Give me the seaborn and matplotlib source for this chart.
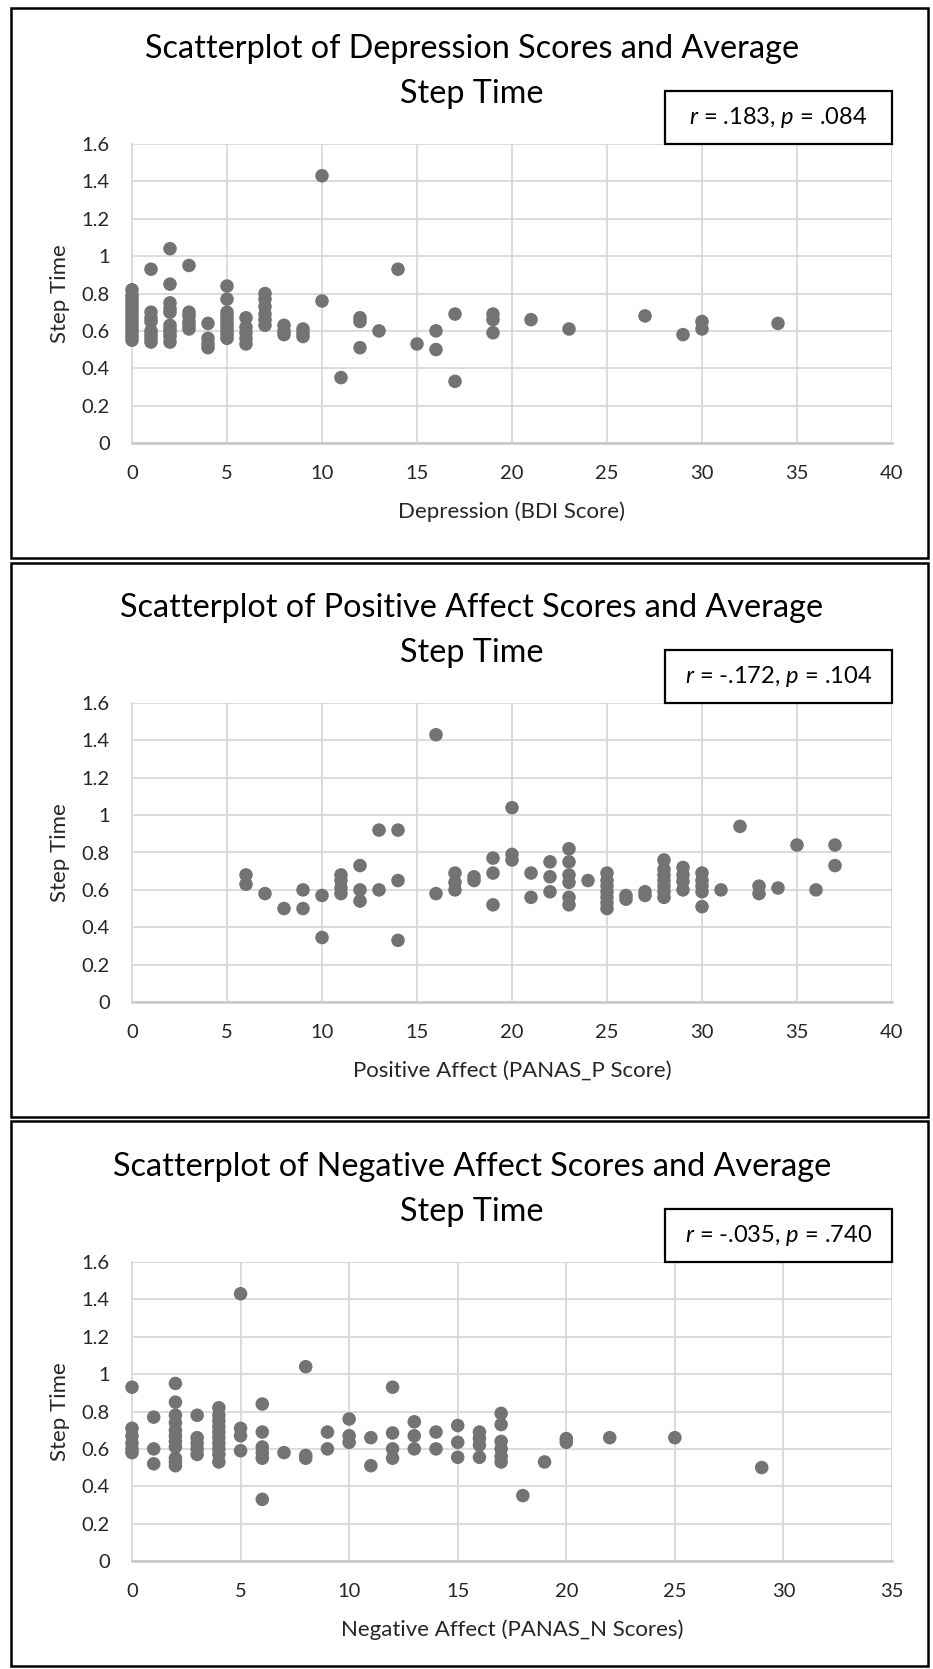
import matplotlib
matplotlib.use("Agg")
import matplotlib.pyplot as plt
from matplotlib.patches import Rectangle
import seaborn as sns
import pandas as pd

# ---------------- data ----------------
bdi_x = [0]*14 + [1]*8 + [2]*10 + [3]*6 + [4]*4 + [5]*10 + [6]*5 + [7]*6 + [8]*3 + [9]*3 \
        + [10]*2 + [11] + [12]*3 + [13] + [14] + [15] + [16]*2 + [17]*2 + [19]*3 + [21] + [23] \
        + [27] + [29] + [30]*2 + [34]
bdi_y = [0.55, 0.57, 0.59, 0.61, 0.63, 0.65, 0.67, 0.69, 0.71, 0.73, 0.75, 0.77, 0.79, 0.82,
         0.93, 0.70, 0.67, 0.65, 0.60, 0.58, 0.56, 0.54,
         1.04, 0.85, 0.75, 0.72, 0.70, 0.63, 0.61, 0.59, 0.57, 0.54,
         0.95, 0.70, 0.68, 0.65, 0.63, 0.61,
         0.64, 0.56, 0.53, 0.51,
         0.84, 0.77, 0.70, 0.68, 0.66, 0.64, 0.62, 0.60, 0.58, 0.56,
         0.67, 0.62, 0.59, 0.56, 0.53,
         0.80, 0.77, 0.73, 0.69, 0.66, 0.63,
         0.63, 0.60, 0.58,
         0.61, 0.59, 0.57,
         1.43, 0.76,
         0.35,
         0.67, 0.65, 0.51,
         0.60,
         0.93,
         0.53,
         0.60, 0.50,
         0.69, 0.33,
         0.69, 0.66, 0.59,
         0.66,
         0.61,
         0.68,
         0.58,
         0.65, 0.61,
         0.64]

pa_x = [6]*2 + [7] + [8] + [9]*2 + [10]*2 + [11]*4 + [12]*3 + [13]*2 + [14]*3 + [16]*2 + [17]*3 \
       + [18]*2 + [19]*3 + [20]*3 + [21]*2 + [22]*3 + [23]*6 + [24] + [25]*7 + [26]*2 + [27]*2 \
       + [28]*7 + [29]*4 + [30]*5 + [31] + [32] + [33]*2 + [34] + [35] + [36] + [37]*2
pa_y = [0.68, 0.63,
        0.58,
        0.50,
        0.60, 0.50,
        0.57, 0.345,
        0.68, 0.65, 0.61, 0.58,
        0.73, 0.60, 0.54,
        0.92, 0.60,
        0.92, 0.65, 0.33,
        1.43, 0.58,
        0.69, 0.64, 0.60,
        0.67, 0.65,
        0.77, 0.69, 0.52,
        1.04, 0.79, 0.76,
        0.69, 0.56,
        0.75, 0.67, 0.59,
        0.82, 0.75, 0.68, 0.64, 0.56, 0.52,
        0.65,
        0.69, 0.65, 0.62, 0.59, 0.56, 0.53, 0.50,
        0.57, 0.55,
        0.59, 0.57,
        0.76, 0.71, 0.68, 0.65, 0.62, 0.59, 0.56,
        0.72, 0.68, 0.645, 0.60,
        0.69, 0.65, 0.62, 0.59, 0.51,
        0.60,
        0.94,
        0.62, 0.58,
        0.61,
        0.84,
        0.60,
        0.84, 0.73]

na_x = [0]*6 + [1]*3 + [2]*11 + [3]*5 + [4]*10 + [5]*4 + [6]*6 + [7] + [8]*3 + [9]*2 + [10]*3 \
       + [11]*2 + [12]*4 + [13]*3 + [14]*2 + [15]*3 + [16]*4 + [17]*6 + [18] + [19] + [20]*2 \
       + [22] + [25] + [29]
na_y = [0.93, 0.71, 0.67, 0.63, 0.60, 0.58,
        0.77, 0.60, 0.52,
        0.95, 0.85, 0.78, 0.74, 0.70, 0.67, 0.64, 0.61, 0.55, 0.53, 0.51,
        0.78, 0.66, 0.63, 0.60, 0.57,
        0.82, 0.78, 0.75, 0.72, 0.69, 0.66, 0.63, 0.60, 0.57, 0.53,
        1.43, 0.71, 0.67, 0.59,
        0.84, 0.69, 0.61, 0.58, 0.55, 0.33,
        0.58,
        1.04, 0.565, 0.55,
        0.69, 0.60,
        0.76, 0.67, 0.635,
        0.66, 0.51,
        0.93, 0.685, 0.60, 0.55,
        0.745, 0.67, 0.60,
        0.69, 0.60,
        0.725, 0.635, 0.555,
        0.69, 0.655, 0.62, 0.555,
        0.79, 0.73, 0.64, 0.60, 0.56, 0.53,
        0.35,
        0.53,
        0.655, 0.635,
        0.66,
        0.66,
        0.50]

titles = [("Scatterplot of Depression Scores and Average", "Step Time"),
          ("Scatterplot of Positive Affect Scores and Average", "Step Time"),
          ("Scatterplot of Negative Affect Scores and Average", "Step Time")]
xlabels = ["Depression (BDI Score)", "Positive Affect (PANAS_P Score)",
           "Negative Affect (PANAS_N Scores)"]
ylabel = "Step Time"
stats = ["$r$ = .183, $p$ = .084", "$r$ = -.172, $p$ = .104", "$r$ = -.035, $p$ = .740"]
xmaxes = [40, 40, 35]
yticks = [0, 0.2, 0.4, 0.6, 0.8, 1.0, 1.2, 1.4, 1.6]
ytick_labels = ["0", "0.2", "0.4", "0.6", "0.8", "1", "1.2", "1.4", "1.6"]

datasets = [pd.DataFrame({"x": bdi_x, "y": bdi_y}),
            pd.DataFrame({"x": pa_x, "y": pa_y}),
            pd.DataFrame({"x": na_x, "y": na_y})]

# ---------------- style ----------------
sns.set_theme(style="white")
FONT = "Lato"
plt.rcParams["font.family"] = [FONT, "DejaVu Sans"]
plt.rcParams["mathtext.fontset"] = "custom"
plt.rcParams["mathtext.rm"] = FONT
plt.rcParams["mathtext.it"] = FONT + ":italic"

W, H = 933, 1669
fig = plt.figure(figsize=(W / 100, H / 100), dpi=100)
fig.patch.set_facecolor("white")

def fx(px):
    return px / W

def fy(py):
    return 1 - py / H

panel_tops = [8, 563, 1121]
panel_bottoms = [558, 1117, 1666]
plot_tops = [144, 703, 1262]
plot_h = 299
plot_l, plot_r = 132, 892

TXT = "#262626"
PT_COLOR = "#737373"
GRID = "#d9d9d9"

for i in range(3):
    # panel border
    fig.patches.append(Rectangle((fx(11), fy(panel_bottoms[i])), fx(928) - fx(11),
                                 fy(panel_tops[i]) - fy(panel_bottoms[i]),
                                 transform=fig.transFigure, fill=False,
                                 edgecolor="black", linewidth=1.8, zorder=0))
    top = plot_tops[i]
    ax = fig.add_axes([fx(plot_l), fy(top + plot_h), fx(plot_r) - fx(plot_l), plot_h / H])
    sns.scatterplot(data=datasets[i], x="x", y="y", ax=ax, color=PT_COLOR,
                    s=95, edgecolor="none", linewidth=0, zorder=3, clip_on=False)
    ax.set_xlim(0, xmaxes[i])
    ax.set_ylim(0, 1.6)
    ax.set_xticks(list(range(0, xmaxes[i] + 1, 5)))
    ax.set_yticks(yticks)
    ax.set_yticklabels(ytick_labels)
    ax.grid(True, color=GRID, linewidth=1.3, zorder=0)
    ax.set_axisbelow(True)
    for side in ["top", "right"]:
        ax.spines[side].set_visible(False)
    ax.spines["left"].set_color(GRID)
    ax.spines["left"].set_linewidth(1.3)
    ax.spines["bottom"].set_color("#c8c8c8")
    ax.spines["bottom"].set_linewidth(1.8)
    ax.tick_params(axis="both", length=0, labelsize=14.5, labelcolor=TXT)
    ax.tick_params(axis="x", pad=16)
    ax.tick_params(axis="y", pad=16)
    ax.set_xlabel(xlabels[i], fontsize=16, color=TXT)
    ax.set_ylabel(ylabel, fontsize=16, color=TXT)
    ax.xaxis.set_label_coords(0.5, -(512 - 443) / plot_h)
    ax.xaxis.label.set_va("center")
    ax.yaxis.set_label_coords(-(plot_l - 60) / (plot_r - plot_l), 0.5)
    ax.yaxis.label.set_va("center")

    # title (two lines as in the original)
    fig.text(fx(472), fy(top - 95), titles[i][0], ha="center", va="center",
             fontsize=23.3, color="black")
    fig.text(fx(472), fy(top - 50), titles[i][1], ha="center", va="center",
             fontsize=23.3, color="black")

    # stats box
    bx0, bx1, by0, by1 = 665, 892, top - 53, top
    fig.patches.append(Rectangle((fx(bx0), fy(by1)), fx(bx1) - fx(bx0), fy(by0) - fy(by1),
                                 transform=fig.transFigure, facecolor="white",
                                 edgecolor="black", linewidth=1.6, zorder=5))
    fig.text(fx((bx0 + bx1) / 2), fy((by0 + by1) / 2), stats[i], ha="center", va="center",
             fontsize=17, color="black", zorder=6)

fig.savefig("out.png", dpi=100, facecolor="white")
